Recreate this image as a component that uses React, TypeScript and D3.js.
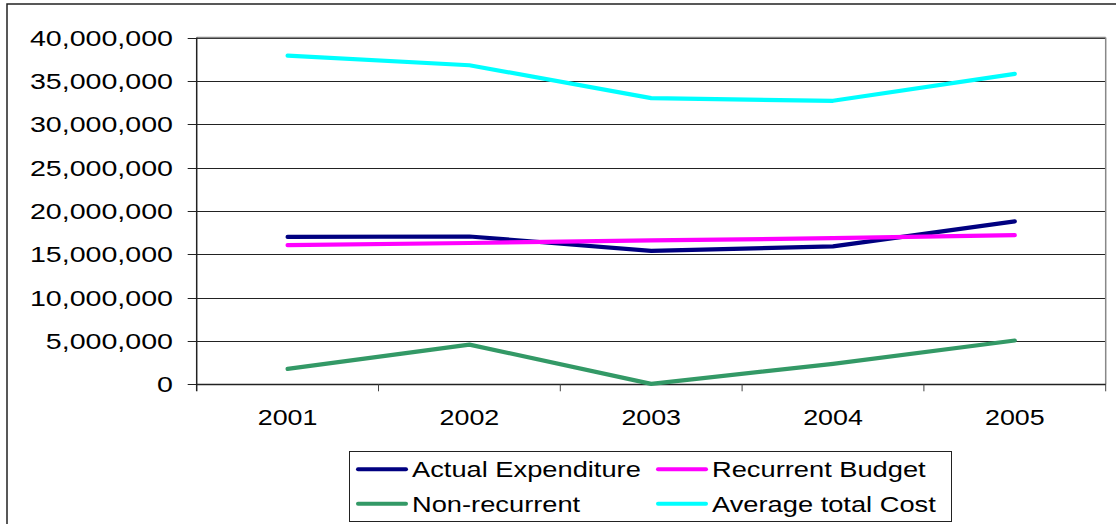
import React from "react";
import * as d3 from "d3";

// Yearly series (currency units)
const years = ["2001", "2002", "2003", "2004", "2005"];
const actualExpenditure = [17000000, 17050000, 15400000, 15900000, 18800000];
const recurrentBudget = [16050000, 16300000, 16600000, 16850000, 17200000];
const nonRecurrent = [1780000, 4580000, 50000, 2360000, 5050000];
const averageTotalCost = [37900000, 36800000, 33000000, 32700000, 35800000];
const yTicks = [0, 5000000, 10000000, 15000000, 20000000, 25000000, 30000000, 35000000, 40000000];

const seriesList = [
  { name: "Actual Expenditure", values: actualExpenditure, color: "#000080" },
  { name: "Recurrent Budget", values: recurrentBudget, color: "#FF00FF" },
  { name: "Non-recurrent", values: nonRecurrent, color: "#339966" },
  { name: "Average total Cost", values: averageTotalCost, color: "#00FFFF" },
];

const W = 1116;
const H = 524;
const plot = { left: 196.7, right: 1105.7, top: 37.5, bottom: 384.3 };
const FS = 22;

const x = d3.scaleBand<string>().domain(years).range([plot.left, plot.right]);
const y = d3.scaleLinear().domain([0, 40000000]).range([plot.bottom, plot.top]);
const fmt = d3.format(",");

function Label(props: { x: number; y: number; sx: number; anchor?: string; children: React.ReactNode }) {
  return (
    <text
      transform={`translate(${props.x},${props.y}) scale(${props.sx},1)`}
      textAnchor={props.anchor || "start"}
      fontFamily="'Liberation Sans', Arial, sans-serif"
      fontSize={FS}
      fill="#000"
    >
      {props.children}
    </text>
  );
}

export default function App() {
  const line = d3
    .line<number>()
    .x((_, i) => (x(years[i]) as number) + x.bandwidth() / 2)
    .y((d) => y(d));

  const legendRows = [
    { s: seriesList[0], lx: 358, ly: 469.3 },
    { s: seriesList[1], lx: 658, ly: 469.3 },
    { s: seriesList[2], lx: 358, ly: 503.7 },
    { s: seriesList[3], lx: 658, ly: 503.7 },
  ];

  return (
    <svg
      width={W}
      height={H}
      style={{ position: "absolute", left: 0, top: 0, background: "#fff" }}
    >
      {/* outer chart frame */}
      <rect x={7} y={4} width={W} height={H} fill="#fff" stroke="#222" strokeWidth={1.5} />

      {/* gridlines */}
      {yTicks.map((t) => (
        <line
          key={"g" + t}
          x1={plot.left - 9}
          x2={plot.right}
          y1={Math.round(y(t)) + 0.5}
          y2={Math.round(y(t)) + 0.5}
          stroke="#222"
          strokeWidth={1}
        />
      ))}

      {/* plot area border (top and right) */}
      <line x1={plot.left} x2={plot.right} y1={37.5} y2={37.5} stroke="#888" strokeWidth={1.5} />
      <line x1={plot.right} x2={plot.right} y1={37.5} y2={plot.bottom} stroke="#888" strokeWidth={1.5} />

      {/* y axis */}
      <line x1={plot.left} x2={plot.left} y1={plot.top} y2={plot.bottom + 7} stroke="#222" strokeWidth={1.5} />
      {yTicks.map((t) => (
        <Label key={"yl" + t} x={173} y={y(t) + 8} sx={1.3} anchor="end">
          {fmt(t)}
        </Label>
      ))}

      {/* x axis */}
      <line x1={plot.left} x2={plot.right} y1={384.5} y2={384.5} stroke="#222" strokeWidth={1.5} />
      {years.map((yr) => (
        <line
          key={"xt" + yr}
          x1={(x(yr) as number) + x.bandwidth()}
          x2={(x(yr) as number) + x.bandwidth()}
          y1={plot.bottom}
          y2={plot.bottom + 7}
          stroke="#444"
          strokeWidth={1}
        />
      ))}
      {years.map((yr) => (
        <Label key={"xl" + yr} x={(x(yr) as number) + x.bandwidth() / 2} y={425} sx={1.22} anchor="middle">
          {yr}
        </Label>
      ))}

      {/* series */}
      {seriesList.map((s) => (
        <path
          key={s.name}
          d={line(s.values) || ""}
          fill="none"
          stroke={s.color}
          strokeWidth={4.2}
          strokeLinejoin="round"
          strokeLinecap="round"
        />
      ))}

      {/* legend */}
      <rect x={349.5} y={451.5} width={602} height={70} fill="#fff" stroke="#222" strokeWidth={1} />
      {legendRows.map(({ s, lx, ly }) => (
        <g key={"lg" + s.name}>
          <line x1={lx} x2={lx + 48} y1={ly} y2={ly} stroke={s.color} strokeWidth={4} strokeLinecap="round" />
          <Label x={lx + 54} y={ly + 8} sx={1.24}>
            {s.name}
          </Label>
        </g>
      ))}
    </svg>
  );
}
